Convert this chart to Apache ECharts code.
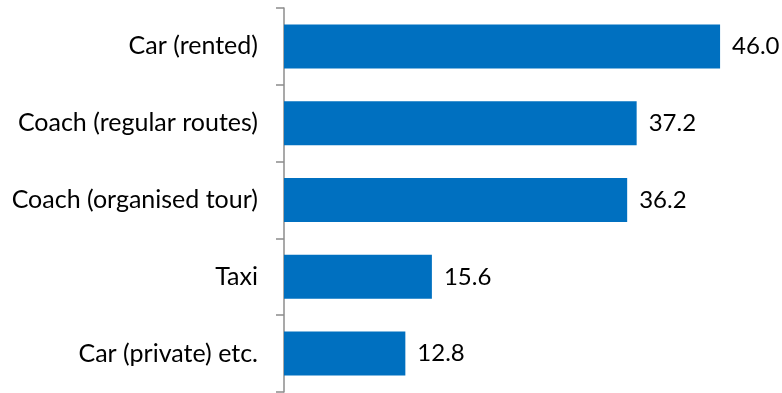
<!DOCTYPE html>
<html>
<head>
<meta charset="utf-8">
<script src="https://cdn.jsdelivr.net/npm/echarts@6/dist/echarts.min.js"></script>
<style>
  html, body { margin: 0; padding: 0; background: #fff; }
  #chart { width: 782px; height: 393px; }
</style>
</head>
<body>
<div id="chart"></div>
<script>
// Transport modes, listed top to bottom
const categories = ['Car (rented)', 'Coach (regular routes)', 'Coach (organised tour)', 'Taxi', 'Car (private) etc.'];
const values = [46.0, 37.2, 36.2, 15.6, 12.8];

const FONT = 'Lato';
const chart = echarts.init(document.getElementById('chart'), null, { renderer: 'canvas' });

chart.setOption({
  animation: false,
  grid: { left: 284, right: 24, top: 8, bottom: 1, containLabel: false },
  xAxis: {
    type: 'value',
    min: 0,
    max: 50,
    show: false
  },
  yAxis: {
    type: 'category',
    inverse: true,
    data: categories,
    axisLine: { show: true, lineStyle: { color: '#8c8c8c', width: 1.5 } },
    axisTick: { show: true, length: 8, lineStyle: { color: '#8c8c8c', width: 1.5 } },
    axisLabel: { margin: 26, color: '#000', fontFamily: FONT, fontSize: 25 },
    splitLine: { show: false }
  },
  series: [{
    type: 'bar',
    data: values,
    barWidth: 44,
    itemStyle: { color: '#0070C0' },
    label: {
      show: true,
      position: 'right',
      distance: 12,
      color: '#000',
      fontFamily: FONT,
      fontSize: 24,
      formatter: p => p.value.toFixed(1)
    }
  }]
});
</script>
</body>
</html>
